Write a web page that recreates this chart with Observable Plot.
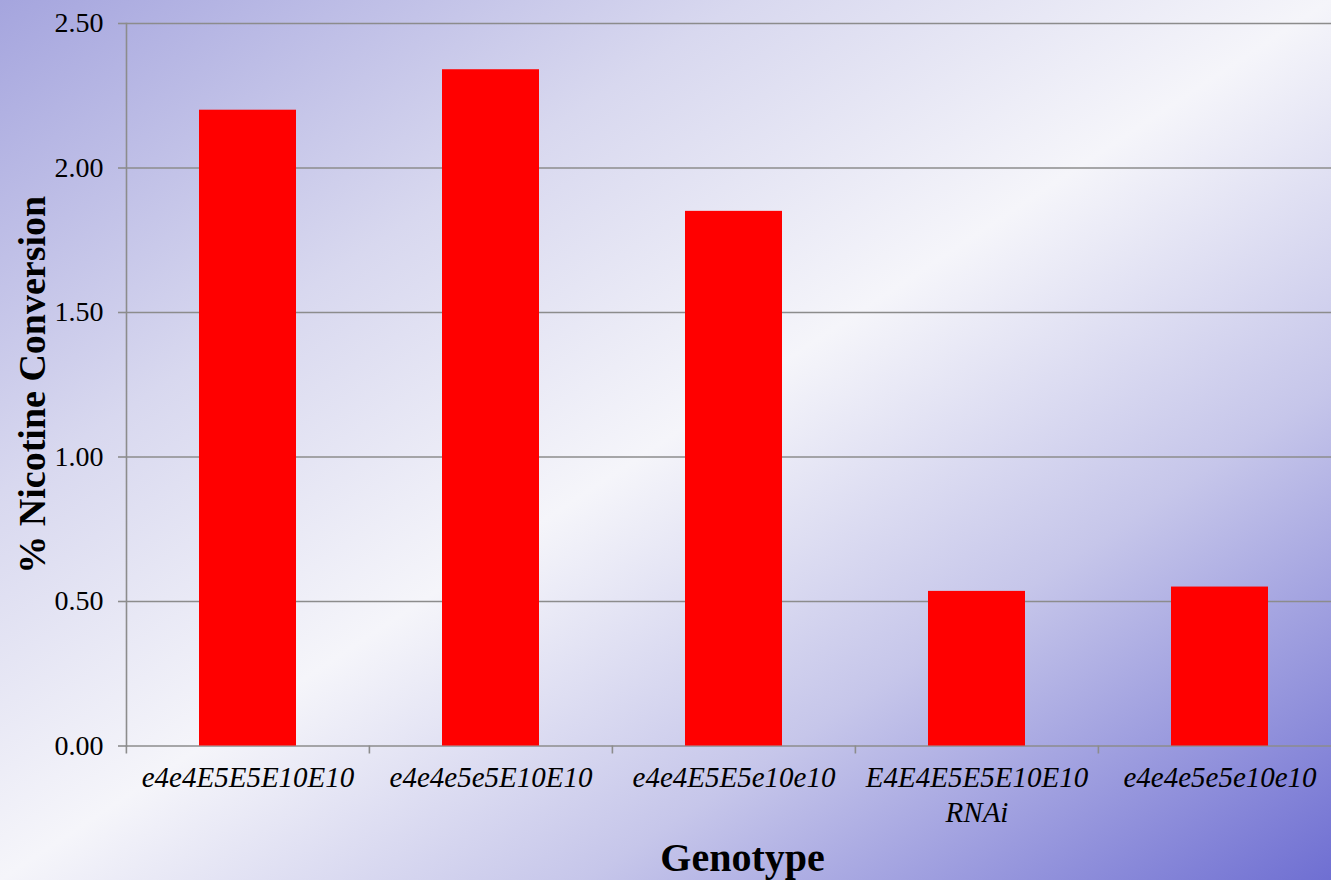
<!DOCTYPE html>
<html>
<head>
<meta charset="utf-8">
<script src="https://cdn.jsdelivr.net/npm/d3@7"></script>
<script src="https://cdn.jsdelivr.net/npm/@observablehq/plot@0.6"></script>
<style>
  html, body {
    margin: 0;
    padding: 0;
    width: 1331px;
    height: 880px;
    overflow: hidden;
  }
  body {
    background: linear-gradient(to bottom right, #a5a5de 0%, #d8d8ef 28%, #f5f5fa 50%, #c6c6ea 72%, #6f6fd2 100%);
  }
  #chart svg { display: block; max-width: none !important; }
</style>
</head>
<body>
<div id="chart"></div>
<script>
// Nicotine conversion by genotype
const genotypes = [
  "e4e4E5E5E10E10",
  "e4e4e5e5E10E10",
  "e4e4E5E5e10e10",
  "E4E4E5E5E10E10\nRNAi",
  "e4e4e5e5e10e10"
];
const conversion = [2.20, 2.34, 1.85, 0.535, 0.55];
const yTicks = [0, 0.5, 1.0, 1.5, 2.0, 2.5];

const data = genotypes.map((g, i) => ({genotype: g, value: conversion[i]}));

const width = 1342, height = 880;
const marginLeft = 126, marginRight = 0, marginTop = 23, marginBottom = 134.5;
const step = (width - marginLeft - marginRight) / genotypes.length;
const gray = "#8c8c8c";

const chart = Plot.plot({
  width, height, marginLeft, marginRight, marginTop, marginBottom,
  style: {background: "transparent", fontFamily: "'Liberation Serif', 'Times New Roman', serif", color: "black", maxWidth: "none"},
  x: {domain: genotypes, paddingInner: 0.6, paddingOuter: 0.3, label: null},
  y: {domain: [0, 2.5], label: null},
  marks: [
    Plot.gridY(yTicks, {stroke: gray, strokeOpacity: 1, strokeWidth: 1.6}),
    Plot.frame({anchor: "left", stroke: gray, strokeWidth: 1.6}),
    Plot.barY(data, {x: "genotype", y: "value", fill: "#ff0000"}),
    Plot.axisY(yTicks, {
      tickSize: 8, tickPadding: 15, stroke: gray, strokeWidth: 1.6,
      tickFormat: d3.format(".2f"), fontSize: 28, label: null
    }),
    // category boundary ticks
    Plot.axisX({tickSize: 8, text: null, dx: -step / 2, stroke: gray, strokeWidth: 1.6, label: null}),
    Plot.axisX({tickSize: 0, tickPadding: 16, fontSize: 29, fontStyle: "italic", lineHeight: 1.2, label: null}),
    Plot.text(["% Nicotine Conversion"], {
      frameAnchor: "left", textAnchor: "middle", rotate: -90, dx: -94,
      fontSize: 38, fontWeight: "bold", fill: "black"
    }),
    Plot.text(["Genotype"], {
      frameAnchor: "bottom", dx: 8, dy: 125,
      fontSize: 40, fontWeight: "bold", fill: "black"
    })
  ]
});
document.getElementById("chart").appendChild(chart);
</script>
</body>
</html>
